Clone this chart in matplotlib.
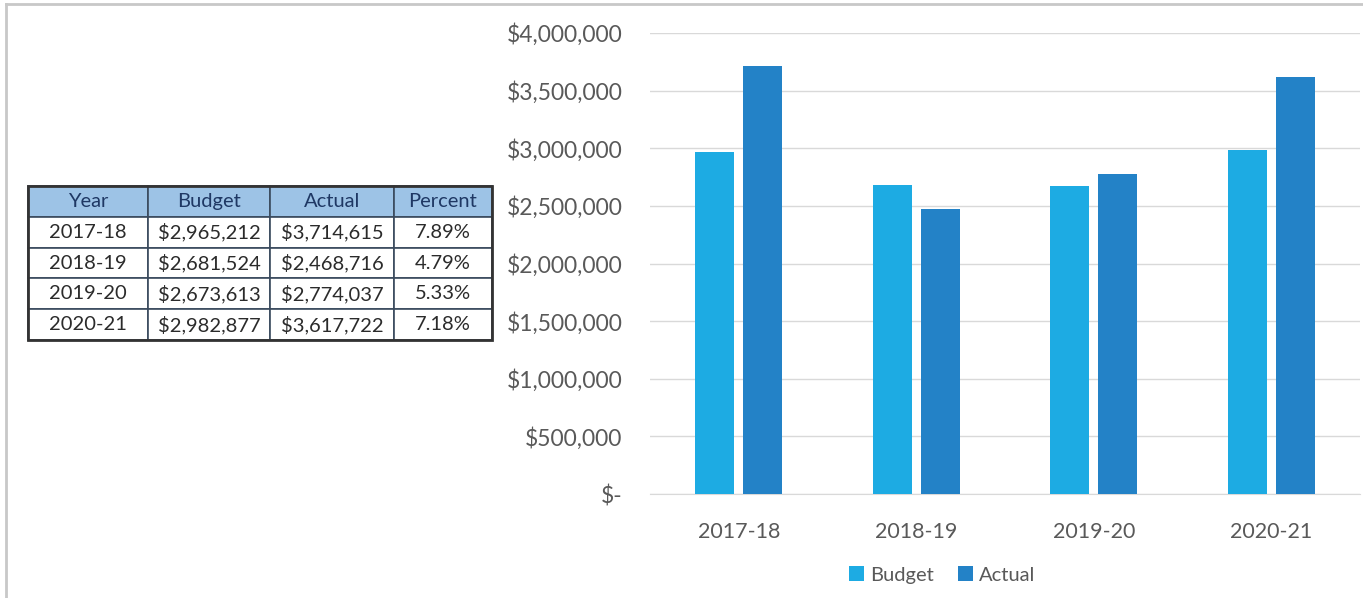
import matplotlib
matplotlib.use("Agg")
import matplotlib.pyplot as plt
from matplotlib.lines import Line2D
from matplotlib.ticker import FuncFormatter
import numpy as np

years = ["2017-18", "2018-19", "2019-20", "2020-21"]
budget = [2965212, 2681524, 2673613, 2982877]
actual = [3714615, 2468716, 2774037, 3617722]
percent = ["7.89%", "4.79%", "5.33%", "7.18%"]
col_labels = ["Year", "Budget", "Actual", "Percent"]
yticks = [0, 500000, 1000000, 1500000, 2000000, 2500000, 3000000, 3500000, 4000000]

plt.rcParams['font.family'] = ['Lato', 'DejaVu Sans']
W, H = 1363, 598
fig = plt.figure(figsize=(W/100, H/100), dpi=100)
fig.patch.set_facecolor("white")

# outer frame lines
fig.add_artist(Line2D([6/W, 1], [1-4/H, 1-4/H], color="#c8c8c8", lw=2, transform=fig.transFigure))
fig.add_artist(Line2D([6/W, 6/W], [0, 1-4/H], color="#c8c8c8", lw=2, transform=fig.transFigure))

# chart
x0, x1 = 650, 1360
y_top, y_bot = 33, 494
ax = fig.add_axes([x0/W, 1-y_bot/H, (x1-x0)/W, (y_bot-y_top)/H])
x = np.arange(len(years))
bw = 0.22
gap = 0.05
ax.bar(x - (bw+gap)/2, budget, bw, color="#1DABE3", label="Budget", zorder=3)
ax.bar(x + (bw+gap)/2, actual, bw, color="#2382C7", label="Actual", zorder=3)
ax.set_xlim(-0.5, len(years)-0.5)
ax.set_ylim(0, 4000000)
ax.set_yticks(yticks)
def fmt(v, pos):
    if v == 0:
        return "$-"
    return "${:,.0f}".format(v)
ax.yaxis.set_major_formatter(FuncFormatter(fmt))
ax.set_xticks(x)
ax.set_xticklabels(years)
ax.grid(axis="y", color="#d9d9d9", lw=1, zorder=0)
for s in ["top", "right", "left"]:
    ax.spines[s].set_visible(False)
ax.spines["bottom"].set_color("#d9d9d9")
ax.tick_params(axis="x", length=0, colors="#595959", labelsize=15.5)
ax.tick_params(axis="y", length=0, colors="#595959", labelsize=16.5, pad=20)
ax.tick_params(axis="x", pad=20)
ax.legend(loc="center", bbox_to_anchor=((942-x0)/(x1-x0), -(575-494)/(y_bot-y_top)), ncol=2, frameon=False,
          fontsize=14.5, handlelength=0.75, handleheight=0.75, handletextpad=0.3,
          columnspacing=1.2, labelcolor="#595959")

# table
tx0, tx1 = 28, 492
ty0, ty1 = 186, 340
tax = fig.add_axes([tx0/W, 1-ty1/H, (tx1-tx0)/W, (ty1-ty0)/H])
tax.axis("off")
cells = [[years[i], "${:,.0f}".format(budget[i]), "${:,.0f}".format(actual[i]), percent[i]] for i in range(len(years))]
tbl = tax.table(cellText=cells, colLabels=col_labels, bbox=[0, 0, 1, 1], cellLoc="center",
                colWidths=[120, 122, 124, 98])
tbl.auto_set_font_size(False)
for (r, c), cell in tbl.get_celld().items():
    cell.set_edgecolor("#3a4a5e")
    cell.set_linewidth(1.2)
    cell.get_text().set_fontsize(14.5)
    if r == 0:
        cell.set_facecolor("#9DC3E6")
        cell.get_text().set_color("#1F3864")
    else:
        cell.set_facecolor("white")
        cell.get_text().set_color("#2b2b2b")
# thicker outer border
tax.add_patch(plt.Rectangle((0, 0), 1, 1, fill=False, ec="#333333", lw=2, transform=tax.transAxes, zorder=10, clip_on=False))

fig.savefig("out.png", dpi=100, facecolor="white")
